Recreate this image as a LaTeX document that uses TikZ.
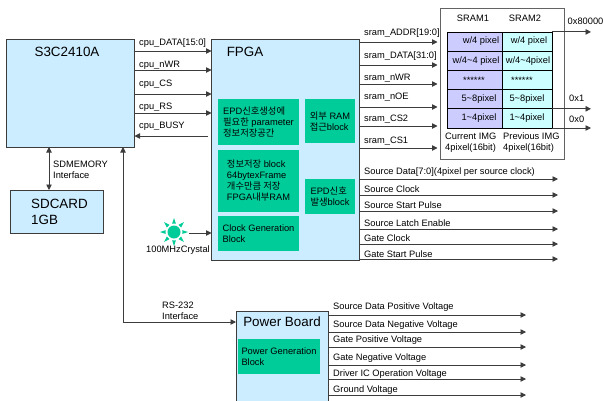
\documentclass[tikz,border=0pt]{standalone}
\usepackage{fontspec}
\setmainfont{Liberation Sans}
\newfontfamily\krfont{Noto Sans CJK KR}
\usetikzlibrary{arrows.meta}
\definecolor{boardblue}{HTML}{CCECFF}
\definecolor{blockgreen}{HTML}{00CC99}
\definecolor{celllav}{HTML}{CCCCFF}
\definecolor{cellcyan}{HTML}{CCFFFF}
\definecolor{wire}{HTML}{3C3C3C}
\newcommand{\kr}[1]{{\krfont #1}}
\tikzset{
  sig/.style={wire, line width=0.9pt, -{Triangle[length=5.5pt,width=5.5pt]}},
  sigboth/.style={wire, line width=0.9pt, {Triangle[length=5.5pt,width=5.5pt]}-{Triangle[length=5.5pt,width=5.5pt]}},
  board/.style={draw=wire, line width=0.9pt, fill=boardblue, anchor=north west, outer sep=0pt, inner sep=0pt},
  blockbox/.style={fill=blockgreen, anchor=north west, outer sep=0pt, inner sep=0pt, align=left, font=\fontsize{9.3}{11}\selectfont},
  title/.style={font=\fontsize{13.4}{16}\selectfont, inner sep=0pt},
  siglab/.style={font=\fontsize{9.3}{11}\selectfont, anchor=west, inner sep=0pt, align=left},
  cell/.style={draw=black, line width=0.8pt, outer sep=0pt, inner sep=0pt, minimum width=55, minimum height=19.2},
  celltxt/.style={font=\fontsize{9.3}{11}\selectfont, inner sep=0pt},
}
\begin{document}
\begin{tikzpicture}[x=1pt, y=-1pt]
  \clip (0,0) rectangle (603,400);
  % boards
  \node[board, minimum width=128.5, minimum height=108] (s3c) at (6,39) {};
  \node[title] (s3ctitle) at (67,52) {S3C2410A};
  \node[board, minimum width=93, minimum height=43] (sdcard) at (10,190) {};
  \node[title, anchor=west, align=left] (sdtitle) at (31,212) {SDCARD\\1GB};
  \node[board, minimum width=147.5, minimum height=220.5] (fpga) at (211.5,39.5) {};
  \node[title] (fpgatitle) at (245,52) {FPGA};
  \node[board, minimum width=92, minimum height=100] (power) at (236,311) {};
  \node[title] (powertitle) at (282,322) {Power Board};
  % green blocks
  \node[blockbox, minimum width=81, minimum height=46] (parblock) at (218,99) {EPD\kr{신호생성에}\\\kr{필요한} parameter\\\kr{정보저장공간}};
  \node[blockbox, minimum width=81, minimum height=62] (infoblock) at (218,150) {\kr{정보저장} block\\64bytexFrame\\\kr{개수만큼 저장}\\FPGA\kr{내부}RAM};
  \node[blockbox, minimum width=81, minimum height=35] (clkblock) at (218,216) {Clock Generation\\Block};
  \node[blockbox, minimum width=50, minimum height=44] (ramblock) at (305,99) {\kr{외부} RAM\\\kr{접근}block};
  \node[blockbox, minimum width=50, minimum height=35.5] (epdblock) at (305,178.5) {EPD\kr{신호}\\\kr{발생}block};
  \node[blockbox, minimum width=82, minimum height=35] (pwrblock) at (238,339) {Power Generation\\Block};
  % sram
  \node[draw=wire!80, line width=0.9pt, fill=white, anchor=north west, outer sep=0pt, minimum width=124, minimum height=151] (sram) at (440,8) {};
  \node[celltxt] (sram1) at (473,18) {SRAM1};
  \node[celltxt] (sram2) at (525,18) {SRAM2};
  \foreach \i/\yy/\ta/\xa/\tb/\xb in {1/41.5/{w/4 pixel}/481/{w/4 pixel}/529,
      2/60.7/{w/4\textasciitilde4 pixel}/476/{w/4\textasciitilde4pixel}/528,
      3/80/{******}/474/{******}/522,
      4/99.2/{5\textasciitilde8pixel}/479/{5\textasciitilde8pixel}/527,
      5/118.4/{1\textasciitilde4pixel}/479/{1\textasciitilde4pixel}/527} {
    \node[cell, fill=celllav] (l\i) at (474.5,\yy) {};
    \node[cell, fill=cellcyan, minimum width=50] (r\i) at (527,\yy) {};
    \node[celltxt] (lt\i) at (\xa,\yy) {\ta};
    \node[celltxt] (rt\i) at (\xb,\yy) {\tb};
  }
  \node[siglab] (curimg) at (445,142.5) {Current IMG\\4pixel(16bit)};
  \node[siglab] (previmg) at (503,142.5) {Previous IMG\\4pixel(16bit)};
  \coordinate (hexend) at (591,0);
  \draw[sig] (r1.north east) -- (hexend |- r1.north east);
  \draw[sig] (r4.south east) -- (hexend |- r4.south east);
  \draw[sig] (r5.south east) -- (hexend |- r5.south east);
  \node[siglab] (hexa) at (567.5,21) {0x80000};
  \node[siglab] (hexb) at (569,98) {0x1};
  \node[siglab] (hexc) at (569,119) {0x0};
  % cpu bus
  \foreach \i/\yy/\ly/\txt in {1/51/43/cpu\_DATA[15:0], 2/70/65/cpu\_nWR, 3/94/84/cpu\_CS, 4/113/107/cpu\_RS} {
    \draw[sig] (s3c.east |- 0,\yy) -- (fpga.west |- 0,\yy);
    \node[siglab] (cpu\i) at (139,\ly) {\txt};
  }
  \coordinate (busyin) at (208,136);
  \draw[sig] (busyin) -- (s3c.east |- busyin);
  \node[siglab] (cpu5) at (139,126) {cpu\_BUSY};
  % sram bus
  \coordinate (sramin) at (437.5,0);
  \foreach \i/\yy/\ly/\txt in {1/42/33/sram\_ADDR[19:0], 2/65/56/sram\_DATA[31:0], 3/84/78/sram\_nWR, 4/107/97/sram\_nOE, 5/126/119/sram\_CS2, 6/148/141/sram\_CS1} {
    \draw[sig] (fpga.east |- 0,\yy) -- (sramin |- 0,\yy);
    \node[siglab] (bus\i) at (364,\ly) {\txt};
  }
  % panel signals
  \coordinate (panelend) at (558,0);
  \foreach \i/\yy/\ly/\txt in {1/179/172/Source Data[7:0](4pixel per source clock), 2/195/189/Source Clock, 3/211/205/Source Start Pulse, 4/229/223/Source Latch Enable, 5/244/238/Gate Clock, 6/259/254/Gate Start Pulse} {
    \draw[sig] (fpga.east |- 0,\yy) -- (panelend |- 0,\yy);
    \node[siglab] (pan\i) at (364,\ly) {\txt};
  }
  % voltages
  \coordinate (voltend) at (526,0);
  \foreach \i/\yy/\ly/\txt in {1/315/307/Source Data Positive Voltage, 2/332/325/Source Data Negative Voltage, 3/347/340/Gate Positive Voltage, 4/365/358/Gate Negative Voltage, 5/379/374/Driver IC Operation Voltage, 6/395/390/Ground Voltage} {
    \draw[sig] (power.east |- 0,\yy) -- (voltend |- 0,\yy);
    \node[siglab] (volt\i) at (333,\ly) {\txt};
  }
  % sd card and rs-232
  \draw[sigboth] (s3c.south -| 49,0) -- (sdcard.north -| 49,0);
  \node[siglab] (sdlab) at (53,170) {SDMEMORY\\Interface};
  \coordinate (rscorner) at (123,322);
  \draw[sigboth] (s3c.south -| rscorner) -- (rscorner) -- (power.west |- rscorner);
  \node[siglab] (rslab) at (162,310.5) {RS-232\\Interface};
  % crystal
  \node[circle, fill=blockgreen, minimum size=13, inner sep=0pt] (xtal) at (174,232) {};
  \foreach \a in {0,45,...,315}
    \fill[blockgreen] ([shift={(\a-13:8.5)}]xtal.center) -- ([shift={(\a+13:8.5)}]xtal.center) -- ([shift={(\a:14)}]xtal.center) -- cycle;
  \coordinate (xtalout) at (189,233);
  \draw[sig] (xtalout) -- (fpga.west |- xtalout);
  \node[siglab] (xtallab) at (146,250) {100MHzCrystal};
\end{tikzpicture}
\end{document}
